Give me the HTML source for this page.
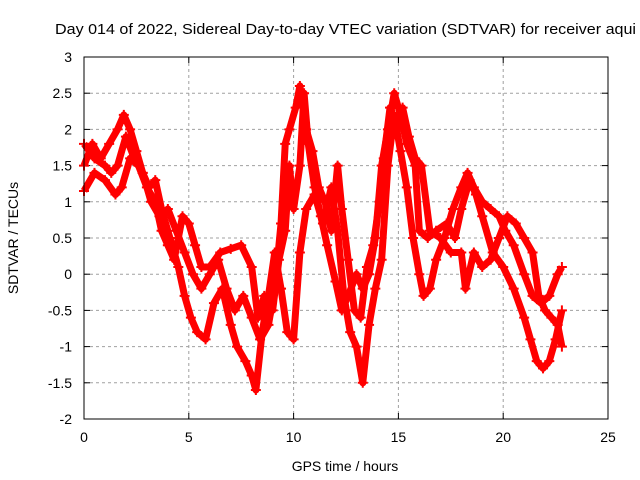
<!DOCTYPE html>
<html><head><meta charset="utf-8"><style>
body{margin:0;background:#fff;}
svg{display:block;font-family:"Liberation Sans",sans-serif;}
</style></head><body>
<svg id="chart" width="640" height="480">
<text x="55" y="34" font-size="15" textLength="581" lengthAdjust="spacingAndGlyphs">Day 014 of 2022, Sidereal Day-to-day VTEC variation (SDTVAR) for receiver aqui</text>
<text x="345" y="471" font-size="14" text-anchor="middle">GPS time / hours</text>
<text transform="translate(18,238) rotate(-90)" font-size="14" text-anchor="middle">SDTVAR / TECUs</text>
<g id="grid"></g><g id="ticks"></g><g id="series"></g>
<rect x="84" y="57" width="524" height="362" fill="none" stroke="#000" stroke-width="1"/>
</svg>
<script>
const xTicks=[0,5,10,15,20,25];
const yTicks=[-2,-1.5,-1,-0.5,0,0.5,1,1.5,2,2.5,3];
const yTickLabels=["-2","-1.5","-1","-0.5","0","0.5","1","1.5","2","2.5","3"];
const track1Hours=[0,0.5,1,1.5,1.8,2.2,2.6,3,3.4,3.7,4,4.3,4.7,5,5.3,5.6,6,6.5,7,7.5,8,8.3,8.6,9,9.3,9.6,9.8,10,10.3,10.5,10.7,11,11.3,11.6,12,12.3,12.6,13,13.3,13.6,13.9,14.2,14.5,14.8,15.1,15.4,15.8,16,16.4,16.8,17.3,17.7,18,18.4,18.7,19,19.5,20,20.5,21,21.3,21.6,21.9,22.2,22.5,22.8];
const track1Values=[1.15,1.4,1.3,1.1,1.2,1.6,1.5,1.2,1.0,0.6,0.4,0.2,0.8,0.7,0.4,0.1,0.1,0.3,0.35,0.4,0.1,-0.6,-0.3,-0.5,0.2,0.6,1.5,0.9,1.5,2.5,1.8,1.2,0.8,0.4,-0.1,-0.5,-0.3,0,-0.2,0,0.5,1.5,2.0,2.5,2.2,1.8,1.5,0.6,0.5,0.6,0.7,0.5,0.9,1.3,1.1,0.8,0.3,0.1,-0.2,-0.6,-0.9,-1.2,-1.3,-1.2,-0.9,-0.5];
const track2Hours=[0,0.4,0.8,1.2,1.6,1.9,2.2,2.5,2.8,3.1,3.4,3.7,4.1,4.5,4.8,5.1,5.4,5.8,6.2,6.6,7,7.3,7.7,8,8.2,8.5,8.8,9.1,9.4,9.7,10,10.3,10.6,11,11.4,11.8,12.1,12.4,12.7,13,13.3,13.6,13.9,14.2,14.5,14.8,15.1,15.4,15.7,16,16.2,16.5,16.8,17.2,17.6,18,18.3,18.6,19,19.4,19.8,20.1,20.5,21,21.4,21.8,22.2,22.6,22.8];
const track2Values=[1.5,1.8,1.6,1.8,2.0,2.2,2.0,1.7,1.4,1.2,1.3,0.9,0.5,0.1,-0.3,-0.6,-0.8,-0.9,-0.4,-0.2,-0.7,-1.0,-1.2,-1.4,-1.6,-0.8,-0.3,0.3,-0.2,-0.8,-0.9,0.3,0.9,1.1,0.7,1.2,0.6,-0.3,-0.8,-1.0,-1.5,-0.7,-0.2,0.2,1.5,2.2,1.7,1.2,0.5,0,-0.3,-0.2,0.2,0.5,0.9,1.2,1.4,1.2,1.0,0.9,0.8,0.6,0.4,0.0,-0.3,-0.4,-0.3,0.0,0.1];
const track3Hours=[0,0.5,1,1.3,1.6,2,2.4,2.8,3.2,3.6,4,4.4,4.8,5.2,5.6,6,6.4,6.8,7.2,7.6,8,8.4,8.8,9.1,9.4,9.6,9.8,10.1,10.3,10.6,10.9,11.2,11.5,11.8,12.1,12.3,12.6,12.9,13.2,13.5,13.8,14.1,14.3,14.6,14.9,15.2,15.5,15.8,16.1,16.5,17,17.5,18,18.2,18.6,19,19.4,19.8,20.2,20.6,21,21.4,21.7,22,22.3,22.6,22.8];
const track3Values=[1.8,1.6,1.5,1.4,1.5,1.9,1.6,1.4,1.0,0.8,0.9,0.6,0.3,0.0,-0.2,0.0,0.2,-0.2,-0.5,-0.3,-0.6,-0.9,-0.7,-0.2,0.7,1.8,2.0,2.3,2.6,2.0,1.7,1.2,1.0,0.6,1.5,0.9,0.2,-0.5,-0.6,0.1,0.4,1.0,1.6,2.3,2.0,2.3,1.9,1.6,1.5,0.6,0.5,0.3,0.3,-0.2,0.3,0.1,0.2,0.5,0.8,0.7,0.5,0.3,-0.3,-0.5,-0.6,-0.7,-1.0];
const tracks=[[track1Hours,track1Values],[track2Hours,track2Values],[track3Hours,track3Values]];
const NS="http://www.w3.org/2000/svg";
const X=h=>84+h*524/25, Y=v=>419-(v+2)*362/5;
const grid=document.getElementById('grid'),ticks=document.getElementById('ticks'),ser=document.getElementById('series');
function mk(tag,attrs,parent){const e=document.createElementNS(NS,tag);for(const k in attrs)e.setAttribute(k,attrs[k]);parent.appendChild(e);return e;}
xTicks.forEach(t=>{
  const x=X(t);
  if(t>0&&t<25){const g=mk('line',{x1:x,x2:x,y1:57,y2:419,stroke:'#a0a0a0','stroke-dasharray':'3,3'},grid);
  
  }
  mk('line',{x1:x,x2:x,y1:419,y2:413,stroke:'#000'},ticks);
  mk('line',{x1:x,x2:x,y1:57,y2:63,stroke:'#000'},ticks);
  const l=mk('text',{x:x,y:442,'font-size':14,'text-anchor':'middle'},ticks);l.textContent=t;
  
  
});
yTicks.forEach((t,i)=>{
  const y=Y(t);
  if(t>-2&&t<3){const g=mk('line',{x1:84,x2:608,y1:y,y2:y,stroke:'#a0a0a0','stroke-dasharray':'3,3'},grid);
  
  }
  mk('line',{x1:84,x2:90,y1:y,y2:y,stroke:'#000'},ticks);
  mk('line',{x1:608,x2:602,y1:y,y2:y,stroke:'#000'},ticks);
  const l=mk('text',{x:72,y:y+5,'font-size':14,'text-anchor':'end'},ticks);l.textContent=yTickLabels[i];
  
  
});
tracks.forEach((tr,ti)=>{
  const [hs,vs]=tr;
  const pts=hs.map((h,i)=>X(h)+','+Y(vs[i])).join(' ');
  const pl=mk('polyline',{points:pts,fill:'none',stroke:'#ff0000','stroke-width':7,'stroke-linejoin':'round'},ser);
  
  
  hs.forEach((h,i)=>{
    const x=X(h),y=Y(vs[i]);
    const p=mk('path',{d:`M${x-5},${y}H${x+5}M${x},${y-5}V${y+5}`,stroke:'#ff0000','stroke-width':2},ser);
    
    
  });
});
</script>
</body></html>
